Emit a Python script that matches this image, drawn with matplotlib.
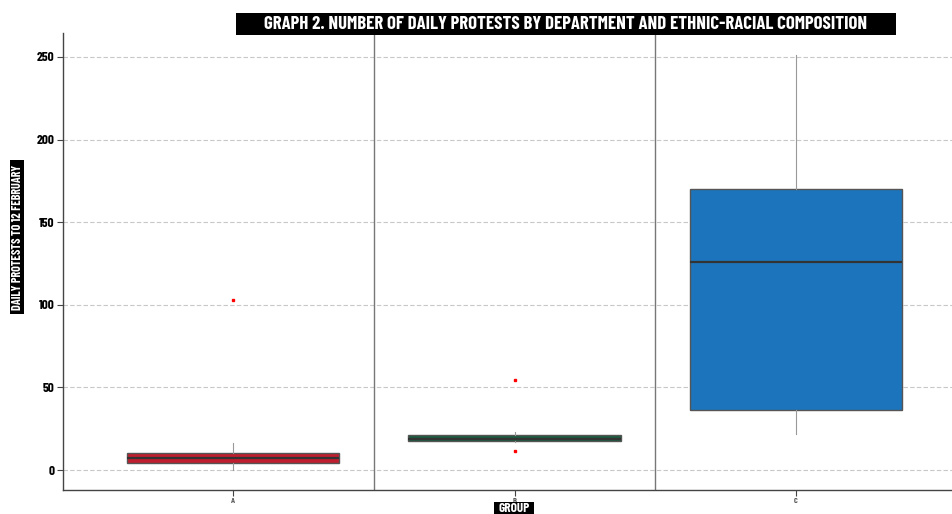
import matplotlib
matplotlib.use("Agg")
import matplotlib.pyplot as plt
from matplotlib.patches import Rectangle

groups = ["A", "B", "C"]
q1 = [4.2, 17.6, 36.3]
med = [7.3, 19.0, 126.0]
q3 = [10.3, 21.2, 170.0]
whislo = [0.0, 17.0, 21.8]
whishi = [16.3, 23.0, 251.0]
outliers = [[103.0], [54.5, 11.5], []]
colors = ["#be1e2d", "#1a5a3e", "#1c75bc"]
yticks = [0, 50, 100, 150, 200, 250]

plt.rcParams['font.family'] = ["Barlow Condensed", "Roboto Condensed", "DejaVu Sans"]

W, H = 952, 514
fig = plt.figure(figsize=(W/100, H/100), dpi=100)
ax = fig.add_axes([63/W, (H-490)/H, 1 - 63/W, (490-33)/H])

stats = []
for i, g in enumerate(groups):
    stats.append(dict(label=g, q1=q1[i], med=med[i], q3=q3[i],
                      whislo=whislo[i], whishi=whishi[i], fliers=outliers[i]))

bp = ax.bxp(stats, positions=range(len(groups)), widths=0.755, patch_artist=True,
            showcaps=False,
            boxprops=dict(edgecolor="#555555", linewidth=1.0),
            medianprops=dict(color="#333333", linewidth=1.6),
            whiskerprops=dict(color="#999999", linewidth=0.8),
            flierprops=dict(marker="s", markersize=2.0, markerfacecolor="red",
                            markeredgecolor="red", linestyle="none"))
for patch, c in zip(bp["boxes"], colors):
    patch.set_facecolor(c)
for el in bp["boxes"] + bp["medians"] + bp["whiskers"] + bp["fliers"]:
    el.set_zorder(3)

ax.set_xlim(-0.605, 2.555)
ax.set_ylim(-12.1, 264.5)
ax.set_yticks(yticks)
ax.yaxis.grid(True, linestyle=(0, (4, 2)), color="#c8c8c8", linewidth=0.8)
ax.set_axisbelow(True)
for xv in [0.5, 1.5]:
    ax.axvline(xv, color="#777777", linewidth=1.0, zorder=2)

for s in ["top", "right"]:
    ax.spines[s].set_visible(False)
for s in ["left", "bottom"]:
    ax.spines[s].set_color("#444444")
    ax.spines[s].set_linewidth(1.0)

ax.tick_params(axis="y", length=4, width=0.8, color="#444444", labelsize=9.5, pad=2)
ax.tick_params(axis="x", length=4, width=0.8, color="#444444", labelsize=6, labelcolor="#555555", pad=2)
for lab in ax.get_yticklabels():
    lab.set_fontweight("bold")
ax.set_xticks(range(len(groups)))
ax.set_xticklabels(groups)
for lab in ax.get_xticklabels():
    lab.set_fontweight("bold")

def fig_box(x0, y0, x1, y1):
    fig.patches.append(Rectangle((x0/W, 1 - y1/H), (x1-x0)/W, (y1-y0)/H,
                                 transform=fig.transFigure, facecolor="black",
                                 edgecolor="none", zorder=5))

fig_box(236, 13, 896, 35)
fig.text(566/W, 1 - 24.5/H, "GRAPH 2. NUMBER OF DAILY PROTESTS BY DEPARTMENT AND ETHNIC-RACIAL COMPOSITION",
         ha="center", va="center", color="white", fontsize=13.5, fontweight="bold", zorder=6)
fig_box(10, 160, 24, 314)
fig.text(17.5/W, 1 - 237/H, "DAILY PROTESTS TO 12 FEBRUARY", rotation=90,
         ha="center", va="center", color="white", fontsize=8.8, fontweight="bold", zorder=6)
fig_box(494, 502, 534, 514)
fig.text(514/W, 1 - 508/H, "GROUP",
         ha="center", va="center", color="white", fontsize=9.5, fontweight="bold", zorder=6)

fig.savefig("out.png", dpi=100)
